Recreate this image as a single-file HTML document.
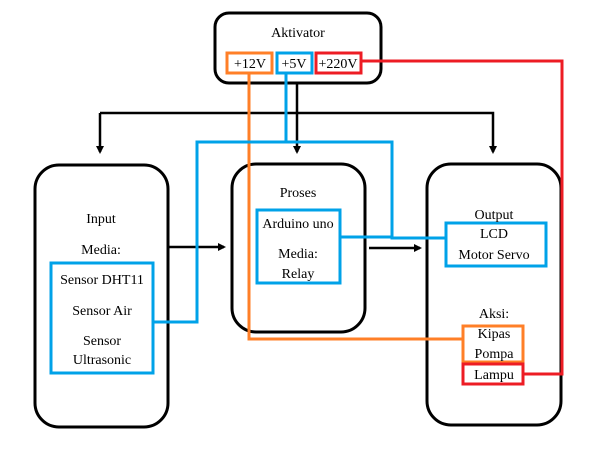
<!DOCTYPE html>
<html><head><style>body{margin:0;background:#fff}svg{display:block}text{font-family:"Liberation Serif",serif;font-size:14px;text-anchor:middle;fill:#000}</style></head><body>
<svg width="600" height="460" xmlns="http://www.w3.org/2000/svg">
<defs><marker id="a" markerWidth="8" markerHeight="8" refX="6" refY="4" orient="auto" markerUnits="userSpaceOnUse"><path d="M0,0L8,4L0,8z" fill="#000"/></marker></defs>
<g fill="none" stroke="#000" stroke-width="3">
<rect x="215" y="13" width="166" height="70" rx="14"/>
<rect x="35" y="165" width="133" height="262" rx="24"/>
<rect x="232" y="164" width="133" height="168" rx="24"/>
<rect x="427" y="164" width="134" height="261" rx="24"/>
</g>
<g fill="none" stroke="#000" stroke-width="2.5">
<path d="M297 83V152" marker-end="url(#a)"/>
<path d="M100 113H493V152" marker-end="url(#a)"/>
<path d="M100 113V152" marker-end="url(#a)"/>
<path d="M169 247H224" marker-end="url(#a)"/>
<path d="M369 248H420" marker-end="url(#a)"/>
</g>
<g fill="none" stroke-width="3">
<path d="M361 61H562V374H522" stroke="#ed1c24"/>
<path d="M249 73V339H463" stroke="#ff7f27"/>
<path d="M286 73V142H392V238H446" stroke="#00a2e8"/>
<path d="M286 142H197V322H153" stroke="#00a2e8"/>
<path d="M340 237H392" stroke="#00a2e8"/>
<rect x="227" y="53" width="45" height="20" stroke="#ff7f27"/>
<rect x="277" y="53" width="35" height="20" stroke="#00a2e8"/>
<rect x="316" y="53" width="45" height="20" stroke="#ed1c24"/>
<rect x="51" y="263" width="102" height="110" stroke="#00a2e8"/>
<rect x="257" y="210" width="83" height="73" stroke="#00a2e8"/>
<rect x="446" y="223" width="100" height="43" stroke="#00a2e8"/>
<rect x="463" y="326" width="60" height="36" stroke="#ff7f27"/>
<rect x="463" y="364" width="60" height="20" stroke="#ed1c24"/>
</g>
<text x="298" y="37">Aktivator</text>
<text x="250" y="68">+12V</text>
<text x="294" y="68">+5V</text>
<text x="338" y="68">+220V</text>
<text x="101" y="223">Input</text>
<text x="101" y="254">Media:</text>
<text x="102" y="284">Sensor DHT11</text>
<text x="102" y="315">Sensor Air</text>
<text x="102" y="345">Sensor</text>
<text x="102" y="364">Ultrasonic</text>
<text x="298" y="197">Proses</text>
<text x="298" y="228">Arduino uno</text>
<text x="298" y="258">Media:</text>
<text x="298" y="278">Relay</text>
<text x="494" y="219">Output</text>
<text x="494" y="238">LCD</text>
<text x="494" y="259">Motor Servo</text>
<text x="494" y="318">Aksi:</text>
<text x="494" y="338">Kipas</text>
<text x="494" y="358">Pompa</text>
<text x="494" y="379">Lampu</text>
</svg>
</body></html>
